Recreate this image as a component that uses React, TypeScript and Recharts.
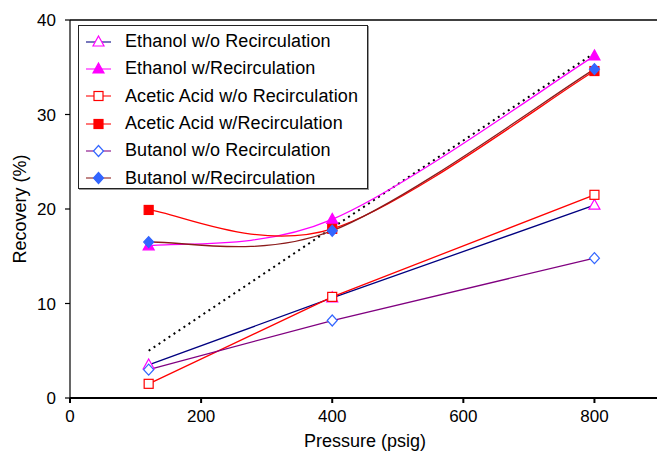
import React from "react";
import {
  LineChart,
  Line,
  XAxis,
  YAxis,
  Legend,
  ReferenceLine,
} from "recharts";

const pressure = [120, 400, 800];
const ethanolWo = [3.5, 10.6, 20.4];
const ethanolW = [16.1, 18.9, 36.2];
const aceticWo = [1.5, 10.7, 21.5];
const aceticW = [19.9, 17.9, 34.6];
const butanolWo = [3.0, 8.2, 14.8];
const butanolW = [16.5, 17.7, 34.8];
const trend = [5.0, 18.0, 36.5];

const xTicks = [0, 200, 400, 600, 800];
const yTicks = [0, 10, 20, 30, 40];

const data = pressure.map((p, i) => ({
  p,
  ethanolWo: ethanolWo[i],
  ethanolW: ethanolW[i],
  aceticWo: aceticWo[i],
  aceticW: aceticW[i],
  butanolWo: butanolWo[i],
  butanolW: butanolW[i],
  trend: trend[i],
}));

type Shape = "triangle" | "square" | "diamond";

type SeriesDef = {
  key: string;
  name: string;
  line: string;
  marker: string;
  shape: Shape;
  filled: boolean;
  smooth: boolean;
};

const series: SeriesDef[] = [
  { key: "ethanolWo", name: "Ethanol w/o Recirculation", line: "#000080", marker: "#ff00ff", shape: "triangle", filled: false, smooth: false },
  { key: "ethanolW", name: "Ethanol w/Recirculation", line: "#ff00ff", marker: "#ff00ff", shape: "triangle", filled: true, smooth: true },
  { key: "aceticWo", name: "Acetic Acid w/o Recirculation", line: "#ff0000", marker: "#ff0000", shape: "square", filled: false, smooth: false },
  { key: "aceticW", name: "Acetic Acid w/Recirculation", line: "#ff0000", marker: "#ff0000", shape: "square", filled: true, smooth: true },
  { key: "butanolWo", name: "Butanol w/o Recirculation", line: "#800080", marker: "#3366ff", shape: "diamond", filled: false, smooth: false },
  { key: "butanolW", name: "Butanol w/Recirculation", line: "#8b1a1a", marker: "#3366ff", shape: "diamond", filled: true, smooth: true },
];

const FONT = "'Liberation Sans', Arial, Helvetica, sans-serif";

// Catmull-Rom style smoothing, close to the spreadsheet "smoothed line"
const smoothCurve = (context: any) => {
  let xs: number[] = [];
  let ys: number[] = [];
  return {
    areaStart() {},
    areaEnd() {},
    lineStart() {
      xs = [];
      ys = [];
    },
    point(x: number, y: number) {
      xs.push(+x);
      ys.push(+y);
    },
    lineEnd() {
      const n = xs.length;
      if (!n) return;
      context.moveTo(xs[0], ys[0]);
      for (let i = 0; i < n - 1; i++) {
        const a = Math.max(i - 1, 0);
        const d = Math.min(i + 2, n - 1);
        context.bezierCurveTo(
          xs[i] + (xs[i + 1] - xs[a]) / 6,
          ys[i] + (ys[i + 1] - ys[a]) / 6,
          xs[i + 1] - (xs[d] - xs[i]) / 6,
          ys[i + 1] - (ys[d] - ys[i]) / 6,
          xs[i + 1],
          ys[i + 1]
        );
      }
    },
  };
};

function Marker({ cx, cy, shape, filled, color }: { cx: number; cy: number; shape: Shape; filled: boolean; color: string }) {
  const fill = filled ? color : "#fff";
  if (shape === "square") {
    return <rect x={cx - 4.5} y={cy - 4.5} width={9} height={9} fill={fill} stroke={color} strokeWidth={1.2} />;
  }
  if (shape === "triangle") {
    return (
      <polygon
        points={`${cx},${cy - 6} ${cx + 5.5},${cy + 4} ${cx - 5.5},${cy + 4}`}
        fill={fill}
        stroke={color}
        strokeWidth={1.2}
      />
    );
  }
  return (
    <polygon
      points={`${cx},${cy - 5.5} ${cx + 5},${cy} ${cx},${cy + 5.5} ${cx - 5},${cy}`}
      fill={fill}
      stroke={color}
      strokeWidth={1.2}
    />
  );
}

function LegendBox() {
  return (
    <div
      style={{
        width: 290,
        height: 164,
        border: "1px solid #222",
        boxShadow: "1px 1px 0 #999",
        background: "#fff",
        boxSizing: "border-box",
        paddingTop: 2,
        fontFamily: FONT,
        fontSize: 18,
        color: "#000",
      }}
    >
      {series.map((s) => (
        <div key={s.key} style={{ height: 27.3, display: "flex", alignItems: "center" }}>
          <svg width={40} height={16} style={{ marginLeft: 6, flex: "none" }}>
            <line x1={1} y1={8} x2={26} y2={8} stroke={s.line} strokeWidth={1.5} opacity={0.7} />
            <Marker cx={13.5} cy={8} shape={s.shape} filled={s.filled} color={s.marker} />
          </svg>
          <span style={{ marginLeft: 0, whiteSpace: "nowrap", letterSpacing: 0.1 }}>{s.name}</span>
        </div>
      ))}
    </div>
  );
}

export default function App() {
  return (
    <div style={{ position: "absolute", left: 0, top: 0, width: 657, height: 455, overflow: "hidden", background: "#fff" }}>
      <LineChart width={660} height={455} data={data} margin={{ top: 20, right: 0, bottom: 0, left: 0 }}>
        <XAxis
          dataKey="p"
          type="number"
          domain={[0, 900]}
          ticks={xTicks}
          tickSize={5}
          tickMargin={7}
          stroke="#000"
          strokeWidth={2}
          height={57}
          tick={{ fill: "#000", fontSize: 17, fontFamily: FONT }}
          label={{ value: "Pressure (psig)", position: "insideBottom", offset: 8, fill: "#000", fontSize: 18, fontFamily: FONT }}
        />
        <YAxis
          type="number"
          domain={[0, 40]}
          ticks={yTicks}
          tickSize={5}
          tickMargin={9}
          width={70}
          stroke="#000"
          strokeWidth={1.2}
          tick={{ fill: "#000", fontSize: 17, fontFamily: FONT }}
          label={{ value: "Recovery (%)", angle: -90, position: "insideLeft", offset: 20, fill: "#000", fontSize: 18, fontFamily: FONT, style: { textAnchor: "middle" } }}
        />
        <ReferenceLine y={40} stroke="#000" strokeWidth={1.5} />
        <Line
          dataKey="trend"
          type="linear"
          stroke="#000"
          strokeWidth={2}
          strokeDasharray="2 4"
          dot={false}
          activeDot={false}
          legendType="none"
          isAnimationActive={false}
        />
        {series.map((s) => (
          <Line
            key={s.key}
            dataKey={s.key}
            name={s.name}
            type={s.smooth ? (smoothCurve as any) : "linear"}
            stroke={s.line}
            strokeWidth={1.3}
            dot={(props: any) => (
              <Marker
                key={`${s.key}-${props.index}`}
                cx={props.cx}
                cy={props.cy}
                shape={s.shape}
                filled={s.filled}
                color={s.marker}
              />
            )}
            activeDot={false}
            isAnimationActive={false}
          />
        ))}
        <Legend
          layout="horizontal"
          verticalAlign="middle"
          align="center"
          content={() => <LegendBox />}
          wrapperStyle={{ position: "absolute", left: 78, top: 25, width: 291, height: 166 }}
        />
      </LineChart>
    </div>
  );
}
